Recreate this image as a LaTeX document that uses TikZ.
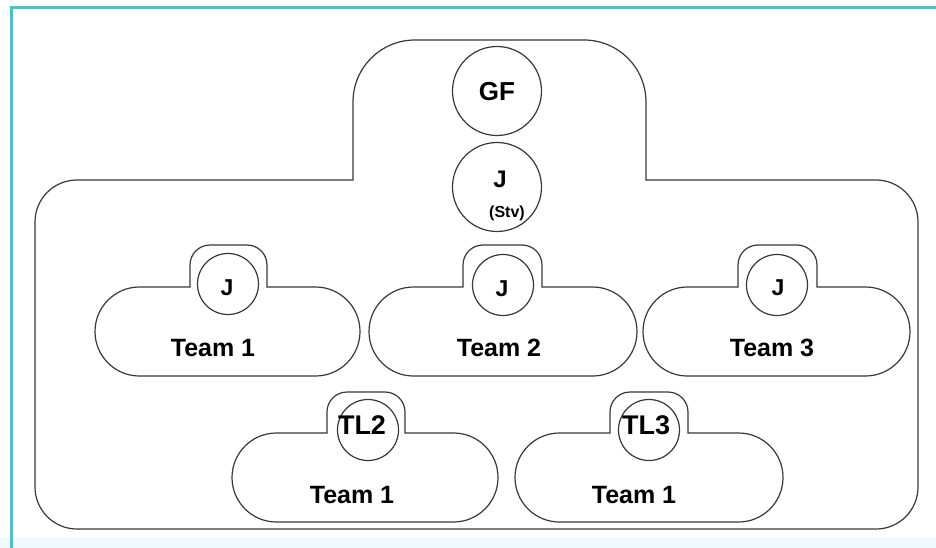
\documentclass[tikz,border=0pt]{standalone}
\usepackage{fontspec}
\setmainfont{Liberation Sans}
\begin{document}
\begin{tikzpicture}[x=1pt,y=1pt,
  line width=1.2pt,
  outline/.style={draw=black!78, line width=1.2pt},
  member/.style={circle, draw=black!78, line width=1.2pt, minimum size=61pt, inner sep=0pt},
  bigmember/.style={circle, draw=black!78, line width=1.2pt, minimum size=89pt, inner sep=0pt},
  lbl/.style={inner sep=0pt, font=\bfseries\fontsize{25}{30}\selectfont},
  jlbl/.style={inner sep=0pt, font=\bfseries\fontsize{23}{28}\selectfont},
  tllbl/.style={inner sep=0pt, font=\bfseries\fontsize{27}{32}\selectfont},
  gflbl/.style={inner sep=0pt, font=\bfseries\fontsize{26}{31}\selectfont},
  stvlbl/.style={inner sep=0pt, font=\bfseries\fontsize{16}{19}\selectfont}]
\useasboundingbox (0,0) rectangle (936,-548);
\fill[white] (0,0) rectangle (936,-548);
% frame
\fill[cyan!6] (0,-537) rectangle (936,-548);
\draw[color={rgb,255:red,88;green,188;blue,196}, line width=3pt] (11.5,-548) -- (11.5,-7.5) -- (936,-7.5);
% outer shape
\draw[outline] (35,-222) arc (180:90:42) -- (353,-180) -- (353,-102) arc (180:90:62)
  -- (584,-40) arc (90:0:62) -- (646,-180) -- (876,-180) arc (90:0:42)
  -- (918,-487) arc (0:-90:42) -- (77,-529) arc (270:180:42) -- cycle;
% team shapes: #1 bl, #2 br, #3 body top, #4 tab left, #5 tab right, #6 tab top
\newcommand{\teamshape}[6]{%
  \draw[outline] (#1+44.5,-#3) -- (#4,-#3) -- (#4,-#6-20) arc (180:90:20)
    -- (#5-20,-#6) arc (90:0:20) -- (#5,-#3) -- (#2-44.5,-#3)
    arc (90:-90:44.5) -- (#1+44.5,-#3-89) arc (270:90:44.5) -- cycle;}
\teamshape{95}{360}{287}{190}{267}{245}
\teamshape{369}{637}{287}{463}{542}{245}
\teamshape{643}{910}{287}{738}{817}{245}
\teamshape{232}{498}{433}{327}{405}{392}
\teamshape{515}{783}{433}{610}{688}{392}
% circles
\node[bigmember] (gf) at (497,-91) {};
\node[bigmember] (stv) at (497,-187) {};
\node[member] (j1) at (228,-284) {};
\node[member] (j2) at (503,-285) {};
\node[member] (j3) at (777,-285) {};
\node[member] (tl2) at (368,-430) {};
\node[member] (tl3) at (649,-430) {};
% labels
\node[gflbl] (gft) at (497,-92) {GF};
\node[jlbl, font=\bfseries\fontsize{24}{28}\selectfont] (stvj) at (500,-179) {J};
\node[stvlbl] (stvt) at (507,-213) {(Stv)};
\node[jlbl] (j1t) at (227,-288) {J};
\node[jlbl] (j2t) at (502,-289) {J};
\node[jlbl] (j3t) at (778,-288) {J};
\node[tllbl] (tl2t) at (362,-425) {TL2};
\node[tllbl] (tl3t) at (646,-425) {TL3};
\node[lbl] (t1) at (213,-348) {Team 1};
\node[lbl] (t2) at (499,-348) {Team 2};
\node[lbl] (t3) at (772,-348) {Team 3};
\node[lbl] (t4) at (352,-495) {Team 1};
\node[lbl] (t5) at (634,-495) {Team 1};
\end{tikzpicture}
\end{document}
